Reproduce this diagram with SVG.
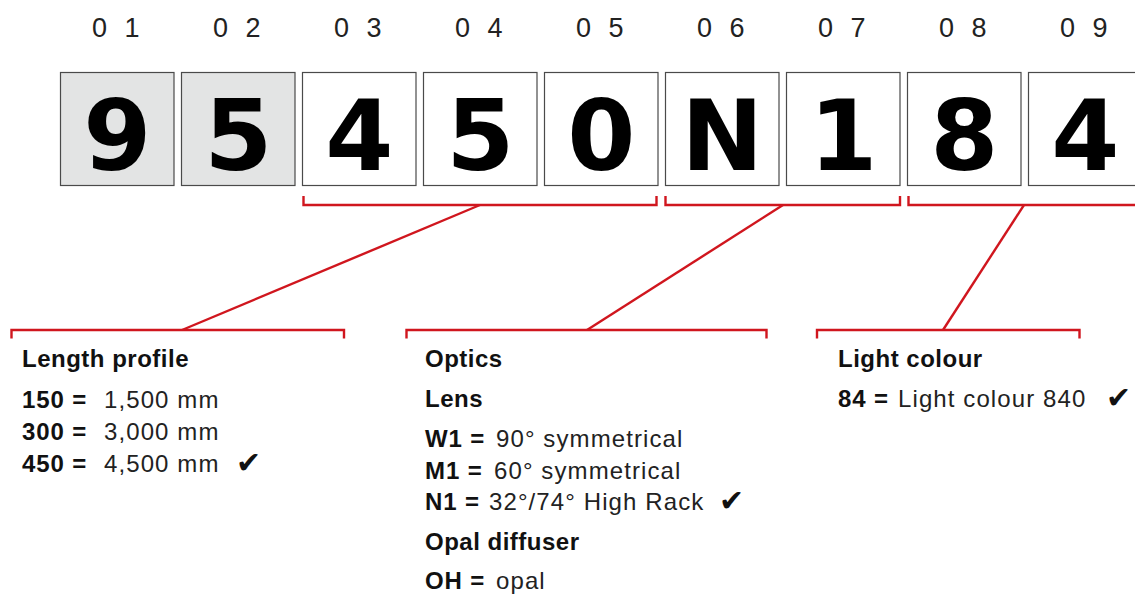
<svg xmlns="http://www.w3.org/2000/svg" width="1135" height="595" viewBox="0 0 1135 595">
<style>
.box{fill:#fff;stroke:#4a4a4a;stroke-width:1.2}
.grey{fill:#e3e4e4}
.dig{font-family:"DejaVu Sans",sans-serif;font-weight:bold;font-size:98px;fill:#000;text-anchor:middle}
.idx{font-family:"Liberation Sans",Arial,sans-serif;font-size:27px;fill:#222;letter-spacing:5px}
.red{fill:none;stroke:#d0161e;stroke-width:2.4}
.h{font-family:"Liberation Sans",Arial,sans-serif;font-weight:bold;font-size:24px;fill:#111;letter-spacing:0.5px}
.k{font-family:"Liberation Sans",Arial,sans-serif;font-weight:bold;font-size:24px;fill:#111;letter-spacing:0.9px}
.v{font-family:"Liberation Sans",Arial,sans-serif;font-size:24px;fill:#222;letter-spacing:1.1px}
.chk{font-family:"DejaVu Sans",sans-serif;font-size:30px;fill:#111}
</style>
<g id="pos01"><text class="idx" x="92" y="37">0 1</text><rect class="box grey" x="60.5" y="72.5" width="113.5" height="113"/><text class="dig" x="117.25" y="170">9</text></g>
<g id="pos02"><text class="idx" x="213" y="37">0 2</text><rect class="box grey" x="181.5" y="72.5" width="113.5" height="113"/><text class="dig" x="238.25" y="170">5</text></g>
<g id="pos03"><text class="idx" x="334" y="37">0 3</text><rect class="box" x="302.5" y="72.5" width="113.5" height="113"/><text class="dig" x="359.25" y="170">4</text></g>
<g id="pos04"><text class="idx" x="455" y="37">0 4</text><rect class="box" x="423.5" y="72.5" width="113.5" height="113"/><text class="dig" x="480.25" y="170">5</text></g>
<g id="pos05"><text class="idx" x="576" y="37">0 5</text><rect class="box" x="544.5" y="72.5" width="113.5" height="113"/><text class="dig" x="601.25" y="170">0</text></g>
<g id="pos06"><text class="idx" x="697" y="37">0 6</text><rect class="box" x="665.5" y="72.5" width="113.5" height="113"/><text class="dig" x="722.25" y="170">N</text></g>
<g id="pos07"><text class="idx" x="818" y="37">0 7</text><rect class="box" x="786.5" y="72.5" width="113.5" height="113"/><text class="dig" x="843.25" y="170">1</text></g>
<g id="pos08"><text class="idx" x="939" y="37">0 8</text><rect class="box" x="907.5" y="72.5" width="113.5" height="113"/><text class="dig" x="964.25" y="170">8</text></g>
<g id="pos09"><text class="idx" x="1060" y="37">0 9</text><rect class="box" x="1028.5" y="72.5" width="113.5" height="113"/><text class="dig" x="1085.25" y="170">4</text></g>
<g id="connectors">
<path class="red" d="M303.5,196 V205 H656.5 V196"/>
<path class="red" d="M665.5,196 V205 H900 V196"/>
<path class="red" d="M908.5,196 V205 H1140"/>
<path class="red" d="M480,205 L182,330"/>
<path class="red" d="M783,205 L587,330"/>
<path class="red" d="M1024,205 L943,330"/>
<path class="red" d="M11.5,338.5 V330 H344 V338.5"/>
<path class="red" d="M406.5,338.5 V330 H766.5 V338.5"/>
<path class="red" d="M817,338.5 V330 H1079.5 V338.5"/>
</g>
<g id="length-profile">
<text class="h" x="22" y="367">Length profile</text>
<text class="k" x="22" y="408">150 =</text><text class="v" x="104" y="408">1,500 mm</text>
<text class="k" x="22" y="440">300 =</text><text class="v" x="104" y="440">3,000 mm</text>
<text class="k" x="22" y="472">450 =</text><text class="v" x="104" y="472">4,500 mm</text><text class="chk" x="236" y="473">✔</text>
</g>
<g id="optics">
<text class="h" x="425" y="367">Optics</text>
<text class="h" x="425" y="407">Lens</text>
<text class="k" x="425" y="447">W1 =</text><text class="v" x="496" y="447">90° symmetrical</text>
<text class="k" x="425" y="478.5">M1 =</text><text class="v" x="494" y="478.5">60° symmetrical</text>
<text class="k" x="425" y="510">N1 =</text><text class="v" x="489" y="510">32°/74° High Rack</text><text class="chk" x="719" y="511">✔</text>
<text class="h" x="425" y="550">Opal diffuser</text>
<text class="k" x="425" y="589">OH =</text><text class="v" x="496" y="589">opal</text>
</g>
<g id="light-colour">
<text class="h" x="838" y="367">Light colour</text>
<text class="k" x="838" y="407">84 =</text><text class="v" x="898" y="407">Light colour 840</text><text class="chk" x="1106" y="408">✔</text>
</g>
</svg>
